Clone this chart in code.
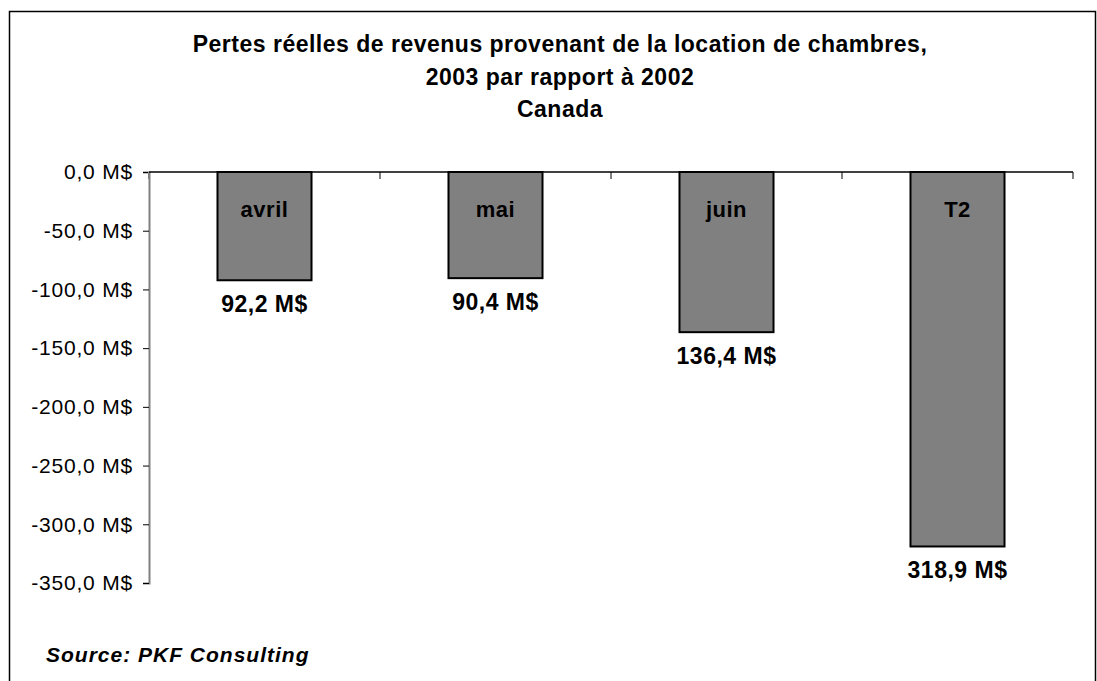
<!DOCTYPE html>
<html>
<head>
<meta charset="utf-8">
<script src="https://cdn.jsdelivr.net/npm/d3@7"></script>
<style>
  body { margin: 0; background: #fff; }
  svg { display: block; font-family: "Liberation Sans", Arial, sans-serif; }
</style>
</head>
<body>
<div id="chart-container"></div>
<script>
// chart data
const categories = ["avril", "mai", "juin", "T2"];
const losses = [-92.2, -90.4, -136.4, -318.9];
const yTicks = [0, -50, -100, -150, -200, -250, -300, -350];
const titleLines = [
  "Pertes réelles de revenus provenant de la location de chambres,",
  "2003 par rapport à 2002",
  "Canada"
];
const sourceText = "Source: PKF Consulting";

const W = 1097;
const H = 681;
const plot = { left: 149, right: 1073, top: 172, bottom: 583 };

const svg = d3
  .select("#chart-container")
  .append("svg")
  .attr("width", W)
  .attr("height", H);

// outer frame
svg
  .append("rect")
  .attr("x", 9.5)
  .attr("y", 11.5)
  .attr("width", 1086)
  .attr("height", 720)
  .attr("fill", "none")
  .attr("stroke", "#000")
  .attr("stroke-width", 1.5);

// scales
const xScale = d3
  .scaleBand()
  .domain(categories)
  .range([plot.left, plot.right])
  .paddingInner(0.593)
  .paddingOuter(0.593 / 2);

const yScale = d3
  .scaleLinear()
  .domain([0, -350])
  .range([plot.top, plot.bottom]);

const fmt = (d) => d3.format(".1f")(d).replace(".", ",").replace("−", "-");

// y axis
const yAxis = d3
  .axisLeft(yScale)
  .tickValues(yTicks)
  .tickFormat((d) => `${fmt(d)} M$`)
  .tickSize(6)
  .tickPadding(10);

svg
  .append("g")
  .attr("transform", `translate(${plot.left}, 0)`)
  .call(yAxis)
  .call((g) => g.select(".domain").attr("stroke", "#808080").attr("stroke-width", 2))
  .call((g) => g.selectAll(".tick line").attr("stroke", "#000"))
  .selectAll(".tick text")
  .style("font-size", "21px")
  .style("letter-spacing", "0.8px")
  .style("font-family", "Liberation Sans, Arial, sans-serif")
  .attr("fill", "#000");

// category ticks on the zero line
const edges = categories.map((c) => xScale(c) - (xScale.step() - xScale.bandwidth()) / 2);
edges.push(plot.right);
svg
  .selectAll("xTick")
  .data(edges)
  .join("line")
  .attr("x1", (d) => d)
  .attr("x2", (d) => d)
  .attr("y1", plot.top)
  .attr("y2", plot.top + 7)
  .attr("stroke", "#808080")
  .attr("stroke-width", 2);

// zero line
svg
  .append("line")
  .attr("x1", plot.left)
  .attr("x2", plot.right)
  .attr("y1", yScale(0))
  .attr("y2", yScale(0))
  .attr("stroke", "#000")
  .attr("stroke-width", 1.5);

// bars
svg
  .selectAll(".bar")
  .data(losses)
  .join("rect")
  .attr("class", "bar")
  .attr("x", (d, i) => xScale(categories[i]))
  .attr("y", yScale(0))
  .attr("width", xScale.bandwidth())
  .attr("height", (d) => yScale(d) - yScale(0))
  .attr("fill", "#808080")
  .attr("stroke", "#000")
  .attr("stroke-width", 2);

// category labels inside bars
svg
  .selectAll(".catLabel")
  .data(categories)
  .join("text")
  .attr("x", (d) => xScale(d) + xScale.bandwidth() / 2)
  .attr("y", 217)
  .attr("text-anchor", "middle")
  .style("font-size", "22px")
  .style("letter-spacing", "0.5px")
  .style("font-weight", "bold")
  .text((d) => d);

// value labels below bars
svg
  .selectAll(".valLabel")
  .data(losses)
  .join("text")
  .attr("x", (d, i) => xScale(categories[i]) + xScale.bandwidth() / 2)
  .attr("y", (d) => yScale(d) + 32)
  .attr("text-anchor", "middle")
  .style("font-size", "23px")
  .style("letter-spacing", "0.5px")
  .style("font-weight", "bold")
  .text((d) => `${fmt(Math.abs(d))} M$`);

// chart title
svg
  .selectAll(".title")
  .data(titleLines)
  .join("text")
  .attr("x", 560)
  .attr("y", (d, i) => [52, 85, 117][i])
  .attr("text-anchor", "middle")
  .style("font-size", "23px")
  .style("letter-spacing", "0.5px")
  .style("font-weight", "bold")
  .text((d) => d);

// source note
svg
  .append("text")
  .attr("x", 46)
  .attr("y", 662)
  .style("font-size", "21px")
  .style("font-weight", "bold")
  .style("font-style", "italic")
  .style("letter-spacing", "1px")
  .text(sourceText);
</script>
</body>
</html>
